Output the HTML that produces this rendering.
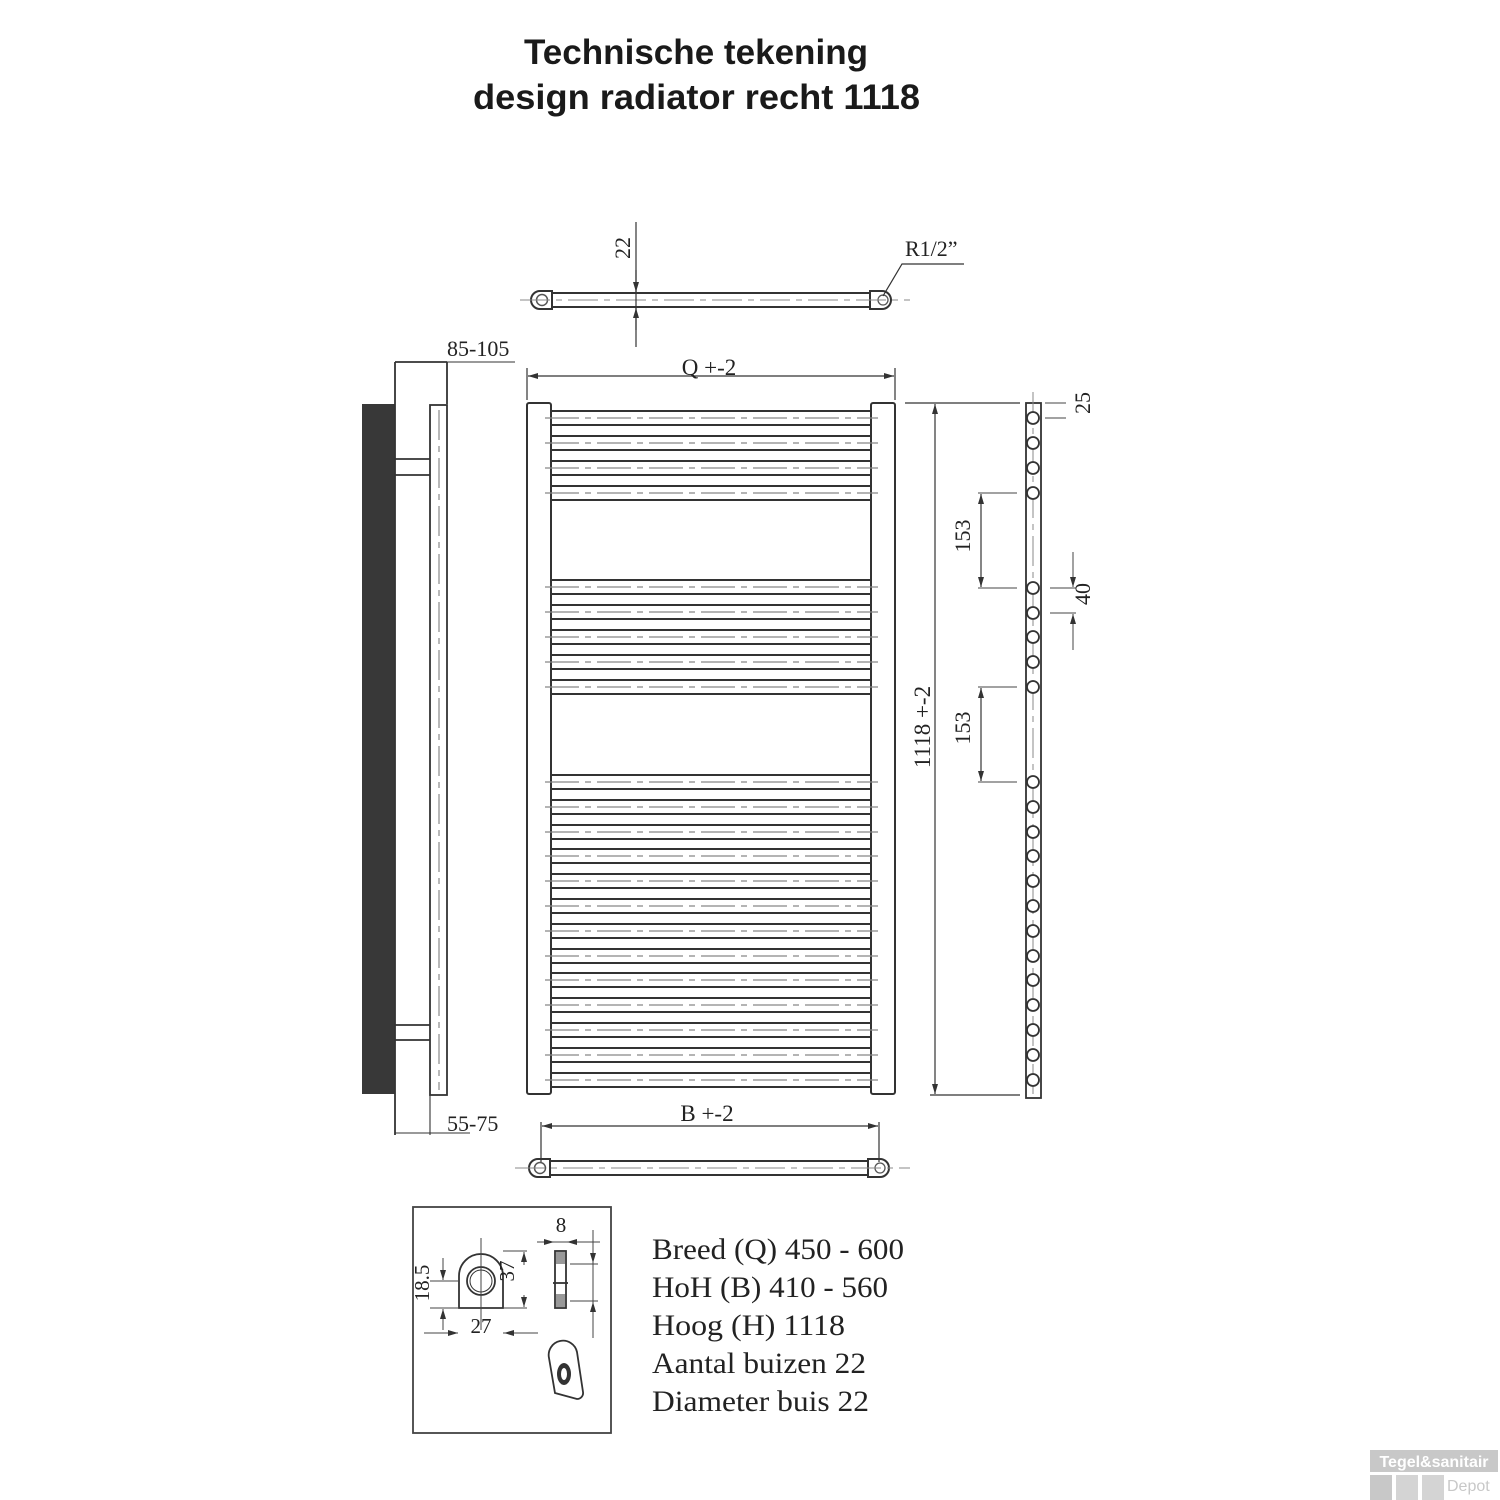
<!DOCTYPE html>
<html><head><meta charset="utf-8"><style>
body{margin:0;background:#fff;width:1500px;height:1500px;overflow:hidden}
svg{position:absolute;left:0;top:0}
.t{font-family:"Liberation Serif",serif;fill:#222}
</style></head><body>
<svg width="1500" height="1500" viewBox="0 0 1500 1500" xmlns="http://www.w3.org/2000/svg">
<defs>
<marker id="a" viewBox="0 0 10 6" refX="10" refY="3" markerWidth="10" markerHeight="6" orient="auto-start-reverse" markerUnits="userSpaceOnUse"><path d="M0 0L10 3L0 6z" fill="#333"/></marker>
</defs>
<text x="524" y="64" textLength="344" lengthAdjust="spacingAndGlyphs" font-family="Liberation Sans,sans-serif" font-weight="bold" font-size="35" fill="#1a1a1a">Technische tekening</text>
<text x="473" y="109" textLength="447" lengthAdjust="spacingAndGlyphs" font-family="Liberation Sans,sans-serif" font-weight="bold" font-size="35" fill="#1a1a1a">design radiator recht 1118</text>

<g fill="none" stroke="#333" stroke-width="2">
<rect x="527" y="403" width="24" height="691" rx="2"/>
<rect x="871" y="403" width="24" height="691" rx="2"/>
<path d="M551 411H871M551 425H871M551 436H871M551 450H871M551 461H871M551 475H871M551 486H871M551 500H871
M551 580H871M551 594H871M551 605H871M551 619H871M551 630H871M551 644H871M551 655H871M551 669H871M551 680H871M551 694H871
M551 775H871M551 789H871M551 800H871M551 814H871M551 825H871M551 839H871M551 849H871M551 863H871M551 874H871M551 888H871M551 899H871M551 913H871M551 924H871M551 938H871M551 949H871M551 963H871M551 973H871M551 987H871M551 998H871M551 1012H871M551 1023H871M551 1037H871M551 1048H871M551 1062H871M551 1073H871M551 1087H871"/>
</g>
<path stroke="#888" stroke-width="1.3" stroke-dasharray="34 6 6 6" fill="none" d="M545 418H878M545 443H878M545 468H878M545 493H878M545 587H878M545 612H878M545 637H878M545 662H878M545 687H878M545 782H878M545 807H878M545 832H878M545 856H878M545 881H878M545 906H878M545 931H878M545 956H878M545 980H878M545 1005H878M545 1030H878M545 1055H878M545 1080H878"/>

<g stroke="#333" stroke-width="1.2" fill="none">
<path d="M527 400V368M895 400V368"/>
<line x1="528" y1="376" x2="894" y2="376" marker-start="url(#a)" marker-end="url(#a)"/>
</g>
<text class="t" x="709" y="375" text-anchor="middle" font-size="23">Q +-2</text>

<g stroke="#333" stroke-width="2" fill="none">
<path d="M552 293H870M552 307H870"/>
<path d="M552 291H540a9 9 0 0 0 0 18H552z"/>
<path d="M870 291H882a9 9 0 0 1 0 18H870z"/>
</g>
<circle cx="542" cy="300" r="5.5" fill="none" stroke="#555" stroke-width="1.5"/>
<circle cx="883" cy="300" r="5" fill="none" stroke="#555" stroke-width="1.3"/>
<path d="M520 300H910" stroke="#888" stroke-width="1" stroke-dasharray="30 6 6 6"/>
<g stroke="#333" stroke-width="1.2" fill="none">
<path d="M636 222V347"/>
<line x1="636" y1="270" x2="636" y2="292" marker-end="url(#a)"/>
<line x1="636" y1="330" x2="636" y2="308" marker-end="url(#a)"/>
<path d="M883 296L902 264H964"/>
</g>
<text class="t" x="630" y="248" text-anchor="middle" font-size="22" transform="rotate(-90 630 248)">22</text>
<text class="t" x="905" y="256" font-size="22">R1/2”</text>

<rect x="362" y="404" width="33" height="690" fill="#383838"/>
<g stroke="#333" stroke-width="1.8" fill="none">
<path d="M395 362V1135M447 362V404M395 362H447"/>
<rect x="430" y="405" width="17" height="690"/>
<path d="M395 459H430M395 475H430M395 1025H430M395 1040H430"/>
</g>
<path d="M439 410V1090" stroke="#888" stroke-width="1.2" stroke-dasharray="30 6 6 6"/>
<g stroke="#333" stroke-width="1.1" fill="none">
<path d="M447 362H515M395 1133H470M430 1095V1135"/>
</g>
<text class="t" x="447" y="356" font-size="22">85-105</text>
<text class="t" x="447" y="1131" font-size="22">55-75</text>

<g stroke="#333" stroke-width="1.2" fill="none">
<path d="M905 403H1020M930 1095H1020"/>
<line x1="935" y1="404" x2="935" y2="1094" marker-start="url(#a)" marker-end="url(#a)"/>
</g>
<text class="t" x="930" y="727" text-anchor="middle" font-size="23" transform="rotate(-90 930 727)">1118 +-2</text>

<rect x="1026" y="403" width="15" height="695" fill="none" stroke="#333" stroke-width="1.8"/>
<path d="M1033 392V1100" stroke="#888" stroke-width="1" stroke-dasharray="30 6 6 6"/>
<g fill="#fff" stroke="#333" stroke-width="1.8">
<circle cx="1033" cy="418" r="6"/><circle cx="1033" cy="443" r="6"/><circle cx="1033" cy="468" r="6"/><circle cx="1033" cy="493" r="6"/>
<circle cx="1033" cy="588" r="6"/><circle cx="1033" cy="613" r="6"/><circle cx="1033" cy="637" r="6"/><circle cx="1033" cy="662" r="6"/><circle cx="1033" cy="687" r="6"/>
<circle cx="1033" cy="782" r="6"/><circle cx="1033" cy="807" r="6"/><circle cx="1033" cy="832" r="6"/><circle cx="1033" cy="856" r="6"/><circle cx="1033" cy="881" r="6"/><circle cx="1033" cy="906" r="6"/><circle cx="1033" cy="931" r="6"/><circle cx="1033" cy="956" r="6"/><circle cx="1033" cy="980" r="6"/><circle cx="1033" cy="1005" r="6"/><circle cx="1033" cy="1030" r="6"/><circle cx="1033" cy="1055" r="6"/><circle cx="1033" cy="1080" r="6"/>
</g>
<g stroke="#444" stroke-width="1" fill="none">
<path d="M1045 418H1066M1045 403H1066"/>
<path d="M978 493H1017M978 588H1017M978 687H1017M978 782H1017"/>
<path d="M1050 588H1076M1050 613H1076"/>
<line x1="981" y1="494" x2="981" y2="587" stroke-width="1.3" marker-start="url(#a)" marker-end="url(#a)"/>
<line x1="981" y1="688" x2="981" y2="781" stroke-width="1.3" marker-start="url(#a)" marker-end="url(#a)"/>
<line x1="1073" y1="552" x2="1073" y2="587" marker-end="url(#a)"/>
<line x1="1073" y1="650" x2="1073" y2="614" marker-end="url(#a)"/>
</g>
<text class="t" x="1098" y="411" text-anchor="middle" font-size="22" transform="rotate(-90 1090 411)">25</text>
<text class="t" x="977" y="543" text-anchor="middle" font-size="22" transform="rotate(-90 970 543)">153</text>
<text class="t" x="977" y="735" text-anchor="middle" font-size="22" transform="rotate(-90 970 735)">153</text>
<text class="t" x="1098" y="602" text-anchor="middle" font-size="22" transform="rotate(-90 1090 602)">40</text>

<g stroke="#333" stroke-width="1.2" fill="none">
<path d="M541 1122V1162M879 1122V1162"/>
<line x1="542" y1="1126" x2="878" y2="1126" marker-start="url(#a)" marker-end="url(#a)"/>
</g>
<text class="t" x="707" y="1121" text-anchor="middle" font-size="23">B +-2</text>
<g stroke="#333" stroke-width="2" fill="none">
<path d="M550 1161H868M550 1175H868"/>
<path d="M550 1159H538a9 9 0 0 0 0 18H550z"/>
<path d="M868 1159H880a9 9 0 0 1 0 18H868z"/>
</g>
<circle cx="540" cy="1168" r="5.5" fill="none" stroke="#555" stroke-width="1.5"/>
<circle cx="880" cy="1168" r="5" fill="none" stroke="#555" stroke-width="1.3"/>
<path d="M515 1168H910" stroke="#888" stroke-width="1" stroke-dasharray="30 6 6 6"/>

<rect x="413" y="1207" width="198" height="226" fill="none" stroke="#444" stroke-width="1.8"/>
<g stroke="#333" stroke-width="1.8" fill="none">
<path d="M459 1308V1276a22 22 0 0 1 44 0V1308z"/>
<circle cx="481" cy="1281" r="14"/>
<circle cx="481" cy="1281" r="11" stroke-width="1"/>
<rect x="555" y="1251" width="11" height="57"/>
<path d="M553 1283H568"/>
<path d="M549 1358a14 14 0 0 1 28 -6l6 40a6 6 0 0 1 -6 7l-22 -6z" fill="#fff"/>
</g>
<rect x="556" y="1252" width="9" height="12" fill="#999"/>
<rect x="556" y="1294" width="9" height="13" fill="#999"/>
<ellipse cx="564" cy="1374" rx="7" ry="11" fill="#333"/>
<ellipse cx="564" cy="1374" rx="3" ry="6" fill="#fff"/>
<g stroke="#444" stroke-width="1" fill="none">
<path d="M481 1238V1330M503 1251H527M503 1308H527M430 1281H458M430 1308H458M424 1333H458M503 1333H538M537 1242H600M570 1264H598M570 1301H598M593 1230V1338"/>
<line x1="524" y1="1265" x2="524" y2="1252" marker-end="url(#a)"/>
<line x1="524" y1="1295" x2="524" y2="1307" marker-end="url(#a)"/>
<line x1="443" y1="1258" x2="443" y2="1280" marker-end="url(#a)"/>
<line x1="443" y1="1330" x2="443" y2="1309" marker-end="url(#a)"/>
<line x1="430" y1="1333" x2="458" y2="1333" marker-end="url(#a)"/>
<line x1="530" y1="1333" x2="504" y2="1333" marker-end="url(#a)"/>
<line x1="538" y1="1242" x2="554" y2="1242" marker-end="url(#a)"/>
<line x1="585" y1="1242" x2="567" y2="1242" marker-end="url(#a)"/>
<line x1="593" y1="1244" x2="593" y2="1263" marker-end="url(#a)"/>
<line x1="593" y1="1322" x2="593" y2="1302" marker-end="url(#a)"/>
</g>
<text class="t" x="561" y="1232" text-anchor="middle" font-size="21">8</text>
<text class="t" x="481" y="1333" text-anchor="middle" font-size="21">27</text>
<text class="t" x="521" y="1278" text-anchor="middle" font-size="21" transform="rotate(-90 514 1278)">37</text>
<text class="t" x="436" y="1290" text-anchor="middle" font-size="21" transform="rotate(-90 429 1290)">18.5</text>

<g class="t" font-size="30">
<text x="652" y="1259" textLength="252" lengthAdjust="spacingAndGlyphs">Breed (Q) 450 - 600</text>
<text x="652" y="1297" textLength="236" lengthAdjust="spacingAndGlyphs">HoH (B) 410 - 560</text>
<text x="652" y="1335" textLength="193" lengthAdjust="spacingAndGlyphs">Hoog (H) 1118</text>
<text x="652" y="1373" textLength="214" lengthAdjust="spacingAndGlyphs">Aantal buizen 22</text>
<text x="652" y="1411" textLength="217" lengthAdjust="spacingAndGlyphs">Diameter buis 22</text>
</g>

<rect x="1370" y="1450" width="128" height="22" fill="#c8c8c8"/>
<text x="1434" y="1467" text-anchor="middle" font-family="Liberation Sans,sans-serif" font-weight="bold" font-size="16" fill="#fff">Tegel&amp;sanitair</text>
<rect x="1370" y="1475" width="22" height="25" fill="#c8c8c8"/>
<rect x="1396" y="1475" width="22" height="25" fill="#d4d4d4"/>
<rect x="1422" y="1475" width="22" height="25" fill="#d4d4d4"/>
<text x="1447" y="1491" font-family="Liberation Sans,sans-serif" font-size="16" fill="#c8c8c8">Depot</text>
</svg>
</body></html>
